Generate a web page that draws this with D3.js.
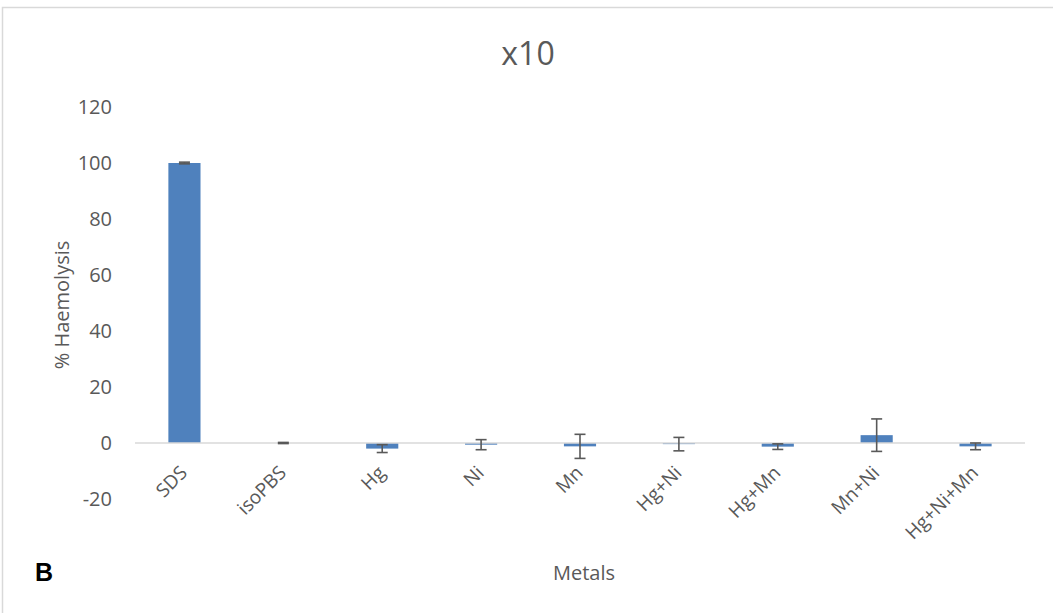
<!DOCTYPE html>
<html><head><meta charset="utf-8">
<script src="https://cdn.jsdelivr.net/npm/d3@7"></script>
<style>body{margin:0;background:#fff}svg{display:block}</style>
</head><body>
<script>
const categories = ["SDS","isoPBS","Hg","Ni","Mn","Hg+Ni","Hg+Mn","Mn+Ni","Hg+Ni+Mn"];
const values = [100, 0, -2.0, -0.6, -1.2, -0.4, -1.3, 2.8, -1.2];
const errors = [0.3, 0.2, 1.4, 1.8, 4.3, 2.4, 1.0, 5.8, 1.2];
const yTicks = [-20, 0, 20, 40, 60, 80, 100, 120];

const W = 1053, H = 613;
const svg = d3.select("body").append("svg").attr("width", W).attr("height", H);
svg.append("rect").attr("x", 2.5).attr("y", 7.5).attr("width", 1070).attr("height", 640)
  .attr("fill", "#fff").attr("stroke", "#d9d9d9").attr("stroke-width", 1.5);

const left = 135, right = 1025;
const x = d3.scaleBand().domain(categories).range([left, right]).paddingInner(0.675).paddingOuter(0.3375);
const y = d3.scaleLinear().domain([-20, 120]).range([499, 107]);
const txt = "#595959";
const font = "'Open Sans', sans-serif";

// y tick labels
svg.append("g").selectAll("text").data(yTicks).join("text")
  .attr("x", 112).attr("y", d => y(d)).attr("dy", "0.36em")
  .attr("text-anchor", "end").attr("font-family", font).attr("font-size", 20).attr("fill", txt)
  .text(d => d);

// bars
svg.append("g").selectAll("rect").data(categories).join("rect")
  .attr("x", d => x(d)).attr("width", x.bandwidth())
  .attr("y", (d, i) => y(Math.max(0, values[i])))
  .attr("height", (d, i) => Math.abs(y(values[i]) - y(0)))
  .attr("fill", "#4f81bd");

// zero line
svg.append("line").attr("x1", left).attr("x2", right).attr("y1", y(0)).attr("y2", y(0))
  .attr("stroke", "#d9d9d9").attr("stroke-width", 1.5);

// error bars
const eg = svg.append("g").attr("stroke", "#595959").attr("stroke-width", 1.6).attr("fill", "none");
categories.forEach((c, i) => {
  const cx = x(c) + x.bandwidth() / 2;
  const y1 = y(values[i] + errors[i]), y2 = y(values[i] - errors[i]);
  eg.append("line").attr("x1", cx).attr("x2", cx).attr("y1", y1).attr("y2", y2);
  eg.append("line").attr("x1", cx - 5.5).attr("x2", cx + 5.5).attr("y1", y1).attr("y2", y1);
  eg.append("line").attr("x1", cx - 5.5).attr("x2", cx + 5.5).attr("y1", y2).attr("y2", y2);
});

// x tick labels
svg.append("g").selectAll("text").data(categories).join("text")
  .attr("transform", d => `translate(${x(d) + x.bandwidth() / 2 + 4},474) rotate(-45)`)
  .attr("text-anchor", "end").attr("font-family", font).attr("font-size", 19).attr("fill", txt)
  .text(d => d);

// title
svg.append("text").attr("x", 528).attr("y", 65).attr("text-anchor", "middle")
  .attr("font-family", font).attr("font-size", 32).attr("fill", txt).text("x10");

// axis titles
svg.append("text").attr("transform", "translate(69,305) rotate(-90)").attr("text-anchor", "middle")
  .attr("font-family", font).attr("font-size", 20).attr("fill", txt).text("% Haemolysis");
svg.append("text").attr("x", 584).attr("y", 580).attr("text-anchor", "middle")
  .attr("font-family", font).attr("font-size", 20).attr("fill", txt).text("Metals");

svg.append("text").attr("x", 35).attr("y", 581)
  .attr("font-family", "'Liberation Sans', Arial, sans-serif").attr("font-weight", "bold")
  .attr("font-size", 25).attr("fill", "#000").text("B");
</script>
</body></html>
